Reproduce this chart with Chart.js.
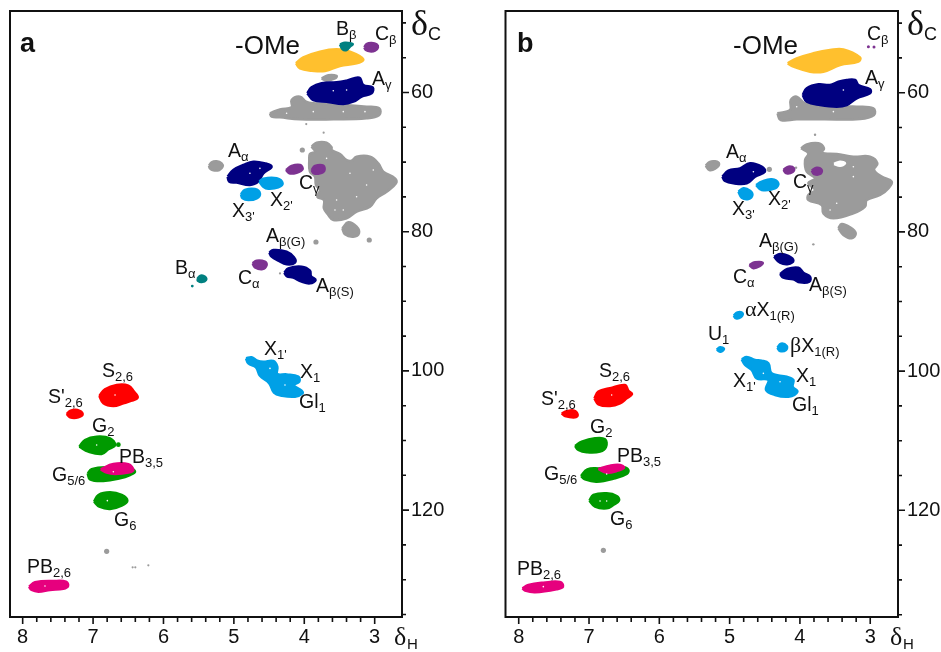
<!DOCTYPE html>
<html>
<head>
<meta charset="utf-8">
<title>HSQC spectra a and b</title>
<script src="https://cdn.jsdelivr.net/npm/chart.js@4/dist/chart.umd.min.js"></script>
<style>
  html, body { margin: 0; padding: 0; background: #fff; }
  #wrap { position: relative; width: 941px; height: 652px; overflow: hidden; }
  canvas { position: absolute; top: 0; }
  #panelA { left: 0; }
  #panelB { left: 470px; }
</style>
</head>
<body>
<div id="wrap">
  <canvas id="panelA" width="470" height="652"></canvas>
  <canvas id="panelB" width="471" height="652"></canvas>
</div>
<script>
// Axis ticks (ppm)
const xTicks = [8, 7.8, 7.6, 7.4, 7.2, 7, 6.8, 6.6, 6.4, 6.2, 6, 5.8, 5.6, 5.4, 5.2, 5, 4.8, 4.6, 4.4, 4.2, 4, 3.8, 3.6, 3.4, 3.2, 3];
const xTickLabels = [8, 7, 6, 5, 4, 3];
const yTicks = [50, 55, 60, 65, 70, 75, 80, 85, 90, 95, 100, 105, 110, 115, 120, 125, 130, 135];
const yTickLabels = [60, 80, 100, 120];

// Panel a: contour outlines as [dH, dC]
const a_OMe = [[4.118,55.81],[4.014,54.95],[3.777,54.13],[3.541,53.80],[3.351,54.13],[3.162,55.23],[3.257,55.81],[3.493,56.19],[3.706,56.91],[3.896,56.86],[4.062,56.53]];
const a_Bb = [[3.493,53.08],[3.422,52.84],[3.313,53.03],[3.351,53.41],[3.399,53.89],[3.455,53.80]];
const a_Cb = [[3.148,53.51],[3.115,53.03],[3.044,52.89],[2.973,53.08],[2.954,53.51],[2.996,53.99],[3.067,54.09],[3.124,53.89]];
const a_grey1 = [[3.754,57.97],[3.659,57.53],[3.541,57.63],[3.564,57.97],[3.683,58.30]];
const a_Ag = [[3.957,60.12],[3.896,59.26],[3.754,58.68],[3.541,58.54],[3.399,58.30],[3.219,57.87],[3.162,58.92],[3.029,59.26],[3.044,60.12],[3.186,60.60],[3.304,61.32],[3.446,61.65],[3.683,61.32],[3.872,61.08]];
const a_greyBand = [[4.488,62.99],[4.346,62.42],[4.180,62.13],[4.180,61.08],[4.062,60.60],[3.976,61.32],[3.872,61.56],[3.446,61.80],[3.115,62.04],[2.935,62.28],[2.935,63.23],[3.115,63.71],[3.588,63.85],[4.062,63.85],[4.346,63.57],[4.464,63.47]];
const a_greyBig = [[3.896,67.78],[3.825,67.21],[3.683,67.21],[3.612,67.88],[3.612,68.26],[3.493,68.84],[3.399,69.70],[3.328,69.79],[3.257,69.22],[3.067,69.22],[2.949,70.18],[2.878,71.37],[2.712,72.33],[2.698,73.05],[2.831,74.25],[2.973,75.21],[3.067,76.40],[3.257,77.12],[3.399,78.08],[3.588,78.32],[3.659,77.60],[3.721,76.64],[3.721,75.45],[3.815,74.97],[3.777,74.01],[3.834,73.29],[3.848,72.09],[3.920,71.37],[3.929,69.70],[3.920,68.84],[3.848,68.50]];
const a_greyLeft = [[5.354,70.51],[5.316,70.03],[5.245,69.89],[5.174,70.18],[5.160,70.66],[5.207,71.13],[5.293,71.18],[5.340,70.90]];
const a_greyLow = [[3.460,79.52],[3.375,78.65],[3.257,79.28],[3.224,80.23],[3.304,80.71],[3.422,80.38]];
const a_Aa = [[5.089,72.09],[5.008,71.13],[4.866,70.42],[4.724,69.94],[4.559,70.18],[4.464,70.66],[4.582,71.61],[4.653,72.81],[4.772,73.29],[4.961,72.95],[5.065,72.81]];
const a_X2 = [[4.639,72.81],[4.582,72.38],[4.393,72.33],[4.308,73.05],[4.369,73.63],[4.511,73.82],[4.582,73.53]];
const a_X3 = [[4.900,74.63],[4.843,74.01],[4.701,73.87],[4.630,74.49],[4.677,75.21],[4.795,75.45],[4.876,75.21]];
const a_Cg1 = [[4.260,71.13],[4.180,70.56],[4.060,70.42],[4.024,71.04],[4.109,71.52],[4.213,71.61]];
const a_Cg2 = [[3.896,71.13],[3.848,70.56],[3.730,70.51],[3.716,71.23],[3.777,71.61],[3.863,71.61]];
const a_AbG = [[4.497,83.02],[4.440,82.63],[4.251,82.87],[4.147,83.69],[4.132,84.45],[4.251,84.69],[4.369,84.17],[4.464,83.59]];
const a_AbS = [[4.284,85.89],[4.227,85.27],[4.038,85.03],[3.919,85.60],[3.905,86.37],[3.839,86.94],[3.919,87.42],[4.038,87.18],[4.156,86.61],[4.251,86.37]];
const a_Ca = [[4.734,84.55],[4.677,84.17],[4.559,84.31],[4.535,84.79],[4.592,85.36],[4.700,85.12]];
const a_Ba = [[5.520,86.80],[5.472,86.32],[5.411,86.47],[5.397,86.94],[5.458,87.23],[5.506,87.09]];
const a_X1 = [[4.828,98.20],[4.748,98.05],[4.667,98.53],[4.582,98.68],[4.440,98.58],[4.383,99.40],[4.383,100.45],[4.250,100.50],[4.085,100.83],[4.071,101.55],[4.147,102.03],[4.038,102.84],[4.024,103.23],[4.132,103.71],[4.322,103.56],[4.431,103.13],[4.497,101.79],[4.630,100.69],[4.686,99.49],[4.795,98.92]];
const a_S26 = [[6.911,103.60],[6.831,102.65],[6.665,102.03],[6.499,102.12],[6.419,102.98],[6.366,103.80],[6.452,104.28],[6.570,104.66],[6.712,105.04],[6.854,104.66]];
const a_Sp26 = [[7.375,106.19],[7.318,105.71],[7.224,105.62],[7.148,106.19],[7.209,106.67],[7.328,106.67]];
const a_G2 = [[7.195,110.89],[7.115,109.93],[6.949,109.45],[6.759,109.69],[6.688,110.65],[6.783,111.27],[6.878,111.94],[7.067,111.60]];
const a_G56 = [[7.077,114.72],[7.020,114.14],[6.807,113.86],[6.475,114.00],[6.404,114.48],[6.475,114.96],[6.617,115.44],[6.854,115.82],[7.044,115.58]];
const a_PB35 = [[6.892,114.14],[6.712,113.38],[6.499,113.42],[6.428,114.24],[6.499,114.62],[6.689,114.81],[6.807,114.62]];
const a_G6 = [[6.987,118.79],[6.925,117.83],[6.759,117.45],[6.594,117.83],[6.513,118.64],[6.594,119.36],[6.759,119.84],[6.911,119.51]];
const a_PB26 = [[7.910,131.00],[7.825,130.38],[7.564,130.19],[7.384,130.28],[7.356,130.90],[7.422,131.29],[7.612,131.48],[7.777,131.72],[7.872,131.48]];
const a_greySpecks = [[4.028,68.26],[3.834,81.48],[3.077,81.19],[6.807,125.92]];
const a_greyDots = [[3.972,64.53],[3.725,65.77],[4.345,85.99],[6.438,128.22],[6.400,128.22],[6.215,127.94]];
const a_tealDots = [[5.591,87.81]];
const a_greenDots = [[6.641,110.60]];
const a_flecks = [[3.564,76.88],[3.446,76.88],[3.257,74.97],[3.115,73.29],[3.020,71.13],[3.351,71.61],[3.541,75.45],[3.683,69.46],[4.251,62.99],[3.872,62.75],[3.446,62.75],[3.138,62.75],[3.588,59.74],[3.399,59.64],[4.772,71.61],[4.630,70.90],[6.688,103.46],[6.949,110.65],[7.683,130.90],[6.797,118.64],[6.712,114.48],[4.274,102.03],[4.487,99.64]];

// Panel b: contour outlines as [dH, dC]
const b_OMe = [[4.174,55.78],[4.046,55.06],[3.809,54.34],[3.571,53.86],[3.382,53.77],[3.145,54.92],[3.168,55.54],[3.429,56.02],[3.666,56.98],[3.856,56.98],[4.093,56.26]];
const b_Ag = [[3.960,60.33],[3.903,59.37],[3.737,58.80],[3.571,58.89],[3.453,58.41],[3.334,58.17],[3.216,58.17],[3.168,58.89],[3.002,59.52],[3.002,60.09],[3.192,60.81],[3.334,61.77],[3.477,62.01],[3.714,61.77],[3.903,61.29]];
const b_greyBand = [[4.321,62.96],[4.140,62.48],[4.131,61.05],[4.046,60.57],[3.927,61.53],[3.571,62.01],[3.192,62.01],[2.955,62.25],[2.946,63.20],[3.145,63.78],[3.666,63.83],[4.046,63.83],[4.273,63.92]];
const b_greyBig = [[3.984,67.99],[3.903,67.42],[3.737,67.27],[3.657,67.99],[3.690,68.61],[3.477,68.81],[3.240,69.19],[3.003,69.19],[2.898,70.15],[2.946,71.10],[2.837,72.06],[2.694,72.78],[2.742,73.74],[2.860,74.70],[3.050,75.42],[3.074,76.37],[3.240,77.33],[3.524,78.05],[3.666,77.33],[3.690,76.13],[3.880,75.42],[3.880,74.70],[3.785,73.98],[3.880,73.02],[3.785,72.30],[3.903,71.34],[3.927,69.67],[3.880,68.71]];
const b_hole = [[3.515,70.24],[3.429,69.91],[3.358,70.15],[3.429,70.48]];
const b_greyLeft = [[5.340,70.48],[5.288,69.96],[5.207,69.86],[5.150,70.24],[5.207,70.91],[5.288,71.10]];
const b_greyLow = [[3.453,79.49],[3.406,78.86],[3.287,79.34],[3.206,80.20],[3.263,80.92],[3.382,80.44]];
const b_Aa = [[5.103,72.06],[5.018,71.20],[4.852,70.87],[4.710,70.15],[4.544,70.63],[4.496,71.34],[4.638,72.06],[4.757,73.02],[4.947,73.02],[5.065,72.69]];
const b_X2 = [[4.624,73.26],[4.544,72.78],[4.401,72.45],[4.307,73.02],[4.354,73.74],[4.544,73.98]];
const b_X3 = [[4.875,74.22],[4.804,73.74],[4.710,74.07],[4.676,74.70],[4.733,75.27],[4.828,75.08]];
const b_Cg1 = [[4.235,71.10],[4.164,70.63],[4.084,70.87],[4.103,71.39],[4.188,71.58]];
const b_Cg2 = [[3.832,71.20],[3.761,70.77],[3.690,71.10],[3.714,71.68],[3.799,71.68]];
const b_AbG = [[4.368,83.56],[4.283,83.17],[4.164,83.46],[4.093,84.13],[4.164,84.61],[4.283,84.42]];
const b_AbS = [[4.283,86.05],[4.179,85.33],[4.022,85.14],[3.951,85.86],[3.856,86.43],[3.866,87.15],[3.999,87.25],[4.093,86.81],[4.236,86.58]];
const b_Ca = [[4.719,84.76],[4.639,84.37],[4.530,84.42],[4.568,84.90],[4.662,85.23]];
const b_aX1 = [[4.942,92.03],[4.890,91.56],[4.814,91.70],[4.843,92.27],[4.909,92.42]];
const b_U1 = [[5.184,96.92],[5.136,96.58],[5.080,96.82],[5.127,97.21]];
const b_bX1 = [[4.321,96.63],[4.269,96.06],[4.188,96.39],[4.198,96.97],[4.283,97.11]];
const b_X1 = [[4.828,98.31],[4.757,97.97],[4.639,98.40],[4.544,98.50],[4.449,98.88],[4.402,100.32],[4.188,100.80],[4.093,101.28],[4.103,102.24],[4.036,102.95],[4.164,103.67],[4.354,103.43],[4.482,102.71],[4.449,101.28],[4.615,101.04],[4.686,99.84],[4.781,99.12]];
const b_S26 = [[6.924,103.91],[6.867,102.95],[6.701,102.47],[6.488,102.00],[6.440,102.81],[6.388,103.29],[6.464,103.91],[6.559,104.63],[6.701,105.01],[6.867,104.77]];
const b_Sp26 = [[7.389,106.07],[7.318,105.78],[7.213,105.68],[7.161,106.31],[7.199,106.64],[7.341,106.45]];
const b_G2 = [[7.199,110.76],[7.104,110.14],[6.915,109.66],[6.772,109.80],[6.758,110.86],[6.843,111.57],[7.033,111.67],[7.152,111.33]];
const b_G56 = [[7.114,115.07],[7.024,114.11],[6.844,113.97],[6.512,113.82],[6.440,114.21],[6.464,114.78],[6.630,115.40],[6.891,115.88],[7.057,115.55]];
const b_PB35 = [[6.867,114.06],[6.701,113.59],[6.559,113.49],[6.502,113.87],[6.606,114.35],[6.749,114.59]];
const b_G6 = [[6.995,118.61],[6.938,117.80],[6.749,117.56],[6.606,117.94],[6.573,118.61],[6.654,119.24],[6.749,119.72],[6.915,119.48]];
const b_PB26 = [[7.948,131.21],[7.863,130.73],[7.650,130.40],[7.412,130.30],[7.370,130.97],[7.460,131.35],[7.768,131.78],[7.910,131.54]];
const b_greySpecks = [[4.435,71.01],[6.796,125.75]];
const b_greyDots = [[3.785,66.03],[4.055,70.77],[3.809,81.79]];
const b_purpleDots = [[3.026,53.39],[2.946,53.43]];
const b_flecks = [[3.240,70.63],[3.240,72.06],[3.571,76.85],[3.477,75.89],[3.524,62.72],[4.046,62.01],[3.382,59.61],[4.662,71.35],[6.678,103.43],[6.843,118.66],[6.749,118.66],[7.650,130.97],[6.749,114.78],[4.283,101.52],[4.520,100.32]];

const GREY = "#9b9b9b", NAVY = "#000080", YELLOW = "#ffc02e", SKY = "#00a0e6", RED = "#ff0000",
      GREEN = "#009a00", PINK = "#e6007e", TEAL = "#008080", PURPLE = "#7d3391";

const FONT = '"Liberation Sans", Arial, sans-serif';
const SERIF = '"Liberation Serif", "Times New Roman", serif';

// outlines in painting order (later ones sit on top)
const contoursA = [
  [a_greyBand, GREY], [a_grey1, GREY], [a_greyBig, GREY], [a_greyLeft, GREY], [a_greyLow, GREY],
  [a_OMe, YELLOW], [a_Bb, TEAL], [a_Cb, PURPLE], [a_Ag, NAVY], [a_Aa, NAVY], [a_X2, SKY], [a_X3, SKY],
  [a_Cg1, PURPLE], [a_Cg2, PURPLE], [a_AbG, NAVY], [a_AbS, NAVY], [a_Ca, PURPLE], [a_Ba, TEAL], [a_X1, SKY],
  [a_S26, RED], [a_Sp26, RED], [a_G2, GREEN], [a_G56, GREEN], [a_PB35, PINK], [a_G6, GREEN], [a_PB26, PINK],
];
const contoursB = [
  [b_greyBand, GREY], [b_greyBig, GREY], [b_hole, "#ffffff"], [b_greyLeft, GREY], [b_greyLow, GREY],
  [b_OMe, YELLOW], [b_Ag, NAVY], [b_Aa, NAVY], [b_X2, SKY], [b_X3, SKY], [b_Cg1, PURPLE], [b_Cg2, PURPLE],
  [b_AbG, NAVY], [b_AbS, NAVY], [b_Ca, PURPLE], [b_aX1, SKY], [b_U1, SKY], [b_bX1, SKY], [b_X1, SKY],
  [b_S26, RED], [b_Sp26, RED], [b_G2, GREEN], [b_G56, GREEN], [b_PB35, PINK], [b_G6, GREEN], [b_PB26, PINK],
];
const dotsA = [[a_greySpecks, GREY, 2.6], [a_greyDots, GREY, 1.1], [a_tealDots, TEAL, 1.4], [a_greenDots, GREEN, 2.4], [a_flecks, "#ffffff", 0.8]];
const dotsB = [[b_greySpecks, GREY, 2.6], [b_greyDots, GREY, 1.2], [b_purpleDots, PURPLE, 1.5], [b_flecks, "#ffffff", 0.8]];

// peak labels: x, baseline (window px), text, subscript, optional serif prefix
const labelsA = [
  [336, 35, "B", "β"], [375, 40, "C", "β"], [372, 85, "A", "γ"], [228, 157, "A", "α"], [299, 189, "C", "γ"],
  [270, 206, "X", "2'"], [232, 217, "X", "3'"], [266, 242, "A", "β(G)"], [316, 292, "A", "β(S)"], [238, 284, "C", "α"],
  [175, 274, "B", "α"], [264, 355, "X", "1'"], [300, 378, "X", "1"], [299, 408, "Gl", "1"], [102, 377, "S", "2,6"],
  [48, 403, "S'", "2,6"], [92, 432, "G", "2"], [119, 463, "PB", "3,5"], [52, 481, "G", "5/6"], [114, 526, "G", "6"],
  [27, 573, "PB", "2,6"],
];
const labelsB = [
  [867, 40, "C", "β"], [865, 84, "A", "γ"], [726, 158, "A", "α"], [793, 188, "C", "γ"], [768, 205, "X", "2'"],
  [732, 215, "X", "3'"], [759, 247, "A", "β(G)"], [809, 291, "A", "β(S)"], [733, 283, "C", "α"],
  [745, 316, "X", "1(R)", "α"], [708, 340, "U", "1"], [790, 352, "X", "1(R)", "β"], [733, 387, "X", "1'"],
  [796, 382, "X", "1"], [792, 411, "Gl", "1"], [599, 377, "S", "2,6"], [541, 405, "S'", "2,6"], [590, 433, "G", "2"],
  [617, 462, "PB", "3,5"], [544, 480, "G", "5/6"], [610, 525, "G", "6"], [517, 575, "PB", "2,6"],
];

function drawLabel(ctx, item) {
  let [x, y, main, sub, prefix] = item;
  ctx.textBaseline = "alphabetic";
  ctx.textAlign = "left";
  ctx.fillStyle = "#111";
  if (prefix) {
    ctx.font = "22px " + SERIF;
    ctx.fillText(prefix, x, y);
    x += ctx.measureText(prefix).width;
  }
  ctx.font = "19.5px " + FONT;
  ctx.fillText(main, x, y);
  x += ctx.measureText(main).width;
  ctx.font = "13px " + FONT;
  ctx.fillText(sub, x, y + 4);
}

// frame, tick marks, peak labels and the panel/axis titles
const spectrumDecor = {
  id: "spectrumDecor",
  afterDraw(chart, args, opts) {
    const { ctx, chartArea: area, scales } = chart;
    ctx.save();
    ctx.strokeStyle = "#111";
    ctx.lineWidth = 2;
    ctx.strokeRect(area.left, area.top, area.right - area.left, area.bottom - area.top);
    ctx.beginPath();
    xTicks.forEach((v) => {
      const px = scales.x.getPixelForValue(v);
      ctx.moveTo(px, area.bottom);
      ctx.lineTo(px, area.bottom + (xTickLabels.includes(v) ? 7 : 5));
    });
    yTicks.forEach((v) => {
      const py = scales.y.getPixelForValue(v);
      ctx.moveTo(area.right, py);
      ctx.lineTo(area.right + (yTickLabels.includes(v) ? 7 : 4), py);
    });
    ctx.lineWidth = 1.6;
    ctx.stroke();

    ctx.translate(-opts.offset, 0);
    opts.labels.forEach((item) => drawLabel(ctx, item));

    ctx.fillStyle = "#111";
    ctx.textAlign = "left";
    ctx.font = "bold 27px " + FONT;
    ctx.fillText(opts.name, opts.nameX, 52);
    ctx.font = "26px " + FONT;
    ctx.fillText("-OMe", opts.omeX, 54);
    ctx.font = "36px " + SERIF;
    ctx.fillText("δ", opts.dcX, 35);
    ctx.font = "18px " + FONT;
    ctx.fillText("C", opts.dcX + 17, 40);
    ctx.font = "26px " + SERIF;
    ctx.fillText("δ", opts.dhX, 645);
    ctx.font = "15px " + FONT;
    ctx.fillText("H", opts.dhX + 13, 649);
    ctx.restore();
  },
};

function buildChart(canvasId, contours, dots, xRange, yRange, pad, yAxisWidth, decor) {
  const datasets = contours.map(([outline, color]) => ({
    data: [...outline, outline[0]].map(([x, y]) => ({ x, y })),
    showLine: true,
    fill: "shape",
    tension: 0.4,
    backgroundColor: color,
    borderColor: color,
    borderWidth: 2.5,
    borderJoinStyle: "round",
    pointRadius: 0,
  }));
  dots.forEach(([points, color, radius]) => {
    datasets.push({
      data: points.map(([x, y]) => ({ x, y })),
      backgroundColor: color,
      borderWidth: 0,
      pointRadius: radius,
    });
  });
  // Chart.js paints the first dataset last
  datasets.reverse();

  return new Chart(document.getElementById(canvasId).getContext("2d"), {
    type: "scatter",
    data: { datasets },
    plugins: [spectrumDecor],
    options: {
      responsive: false,
      animation: false,
      events: [],
      layout: { padding: pad, autoPadding: false },
      plugins: { legend: { display: false }, tooltip: { enabled: false }, spectrumDecor: decor },
      scales: {
        x: {
          type: "linear",
          reverse: true,
          min: xRange[0],
          max: xRange[1],
          afterBuildTicks: (scale) => { scale.ticks = xTicks.map((value) => ({ value })); },
          afterFit: (scale) => { scale.height = 35; scale.paddingLeft = 0; scale.paddingRight = 0; },
          grid: { display: false, drawTicks: false },
          border: { display: false },
          ticks: {
            autoSkip: false,
            maxRotation: 0,
            padding: 8,
            color: "#111",
            font: { family: FONT, size: 20 },
            callback: (v) => (xTickLabels.includes(v) ? String(v) : ""),
          },
        },
        y: {
          type: "linear",
          position: "right",
          reverse: true,
          min: yRange[0],
          max: yRange[1],
          afterBuildTicks: (scale) => { scale.ticks = yTicks.map((value) => ({ value })); },
          afterFit: (scale) => { scale.width = yAxisWidth; scale.paddingTop = 0; scale.paddingBottom = 0; },
          grid: { display: false, drawTicks: false },
          border: { display: false },
          ticks: {
            autoSkip: false,
            padding: 9,
            color: "#111",
            font: { family: FONT, size: 20 },
            callback: (v) => (yTickLabels.includes(v) ? String(v) : ""),
          },
        },
      },
    },
  });
}

buildChart("panelA", contoursA, dotsA, [2.612, 8.18], [48.29, 135.36],
  { left: 10, top: 11, right: 0, bottom: 0 }, 68,
  { labels: labelsA, offset: 0, name: "a", nameX: 20, omeX: 235, dcX: 411, dhX: 394 });

buildChart("panelB", contoursB, dotsB, [2.605, 8.188], [48.26, 135.33],
  { left: 35.5, top: 11, right: 0, bottom: 0 }, 43,
  { labels: labelsB, offset: 470, name: "b", nameX: 517, omeX: 733, dcX: 907, dhX: 890 });
</script>
</body>
</html>
